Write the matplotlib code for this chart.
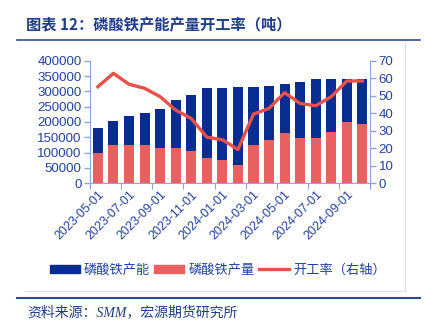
import matplotlib
matplotlib.use("Agg")
import matplotlib.pyplot as plt
from matplotlib.lines import Line2D
from matplotlib.patches import Patch
import numpy as np

plt.rcParams['font.family'] = ['Liberation Sans', 'Noto Sans CJK SC']

# 数据
meses = ['2023-05-01', '2023-06-01', '2023-07-01', '2023-08-01', '2023-09-01', '2023-10-01',
         '2023-11-01', '2023-12-01', '2024-01-01', '2024-02-01', '2024-03-01', '2024-04-01',
         '2024-05-01', '2024-06-01', '2024-07-01', '2024-08-01', '2024-09-01', '2024-10-01']
capacidad = [179000, 204000, 219000, 228000, 243000, 272000, 288000, 310000, 310000,
             315000, 315000, 319000, 323000, 331000, 340000, 340000, 340000, 340000]
produccion = [100000, 124000, 124000, 124000, 116000, 116000, 104000, 81000, 77000,
              60000, 124000, 140000, 164000, 148000, 148000, 168000, 200000, 195000]
tasa = [55.2, 62.9, 56.6, 54.3, 49.5, 41.8, 37.0, 26.3, 24.8,
        19.2, 39.5, 42.8, 51.8, 45.6, 44.3, 49.5, 58.5, 58.5]

azul = '#062D8F'
rojo = '#E8605F'
linea = '#E8504A'
eje = '#8AA6DA'
texto = '#2243A0'

fig = plt.figure(figsize=(4.25, 3.31), dpi=100)
ax = fig.add_axes([0.212, 0.447, 0.659, 0.369])
ax2 = ax.twinx()

x = np.arange(len(meses))
ax.bar(x, capacidad, width=0.65, color=azul, zorder=2)
ax.bar(x, produccion, width=0.65, color=rojo, zorder=3)
ax2.plot(x, tasa, color=linea, lw=2.4, zorder=4)

ax.set_xlim(-0.5, len(meses) - 0.5)
ax.set_ylim(0, 400000)
ax.set_yticks(range(0, 400001, 50000))
ax2.set_ylim(0, 70)
ax2.set_yticks(range(0, 71, 10))

# ticks en los bordes, etiquetas cada 2 meses
ax.set_xticks(np.arange(-0.5, len(meses), 2))
ax.set_xticklabels([])
ax.set_xticks(x[::2], minor=True)
ax.set_xticklabels(meses[::2], minor=True, rotation=45, ha='right', rotation_mode='anchor',
                   fontsize=9, color=texto)
ax.tick_params(axis='x', which='minor', length=0, pad=4)
ax.tick_params(axis='x', which='major', length=4, color=eje, direction='out')

for a in (ax, ax2):
    for s in a.spines.values():
        s.set_visible(False)
    a.tick_params(axis='y', colors=texto, labelsize=9.5, length=4, width=1)
    a.tick_params(axis='y', color=eje)
ax.spines['left'].set_visible(True)
ax.spines['left'].set_color(eje)
ax.spines['bottom'].set_visible(True)
ax.spines['bottom'].set_color(eje)
ax2.spines['right'].set_visible(True)
ax2.spines['right'].set_color(eje)
ax.tick_params(axis='y', pad=2)
ax2.tick_params(axis='y', pad=2)

handles = [Patch(color=azul), Patch(color=rojo), Line2D([], [], color=linea, lw=2.4)]
labels = ['磷酸铁产能', '磷酸铁产量', '开工率（右轴）']
fig.legend(handles, labels, loc='center', bbox_to_anchor=(0.512, 0.184), ncol=3, frameon=False,
           fontsize=9.5, handlelength=2.3, handleheight=0.55, columnspacing=0.3, handletextpad=0.3,
           labelcolor=texto)

# titulo y marco
fig.text(0.062, 0.925, '图表 12：磷酸铁产能产量开工率（吨）', fontsize=11, fontweight='bold',
         color='#1F3C88', family=['Noto Sans CJK SC'], va='center')
fig.add_artist(Line2D([0.04, 0.988], [1 - 40 / 331] * 2, color='#2B4A8E', lw=1.2))
fig.add_artist(Line2D([0.04, 0.988], [1 - 298 / 331] * 2, color='#2B4A8E', lw=1.5))
fig.add_artist(Line2D([0.059, 0.953], [1 - 291 / 331] * 2, color='#DDDDDD', lw=0.8))
fig.add_artist(Line2D([0.953, 0.953], [1 - 42 / 331, 1 - 291 / 331], color='#DDDDDD', lw=0.8))
fig.text(0.064, 1 - 312 / 331, '资料来源：SMM，宏源期货研究所', fontsize=10, style='italic',
         color='#1F3C88', family=['Liberation Serif', 'Noto Sans CJK SC'], va='center')

fig.savefig('out.png', dpi=100)
